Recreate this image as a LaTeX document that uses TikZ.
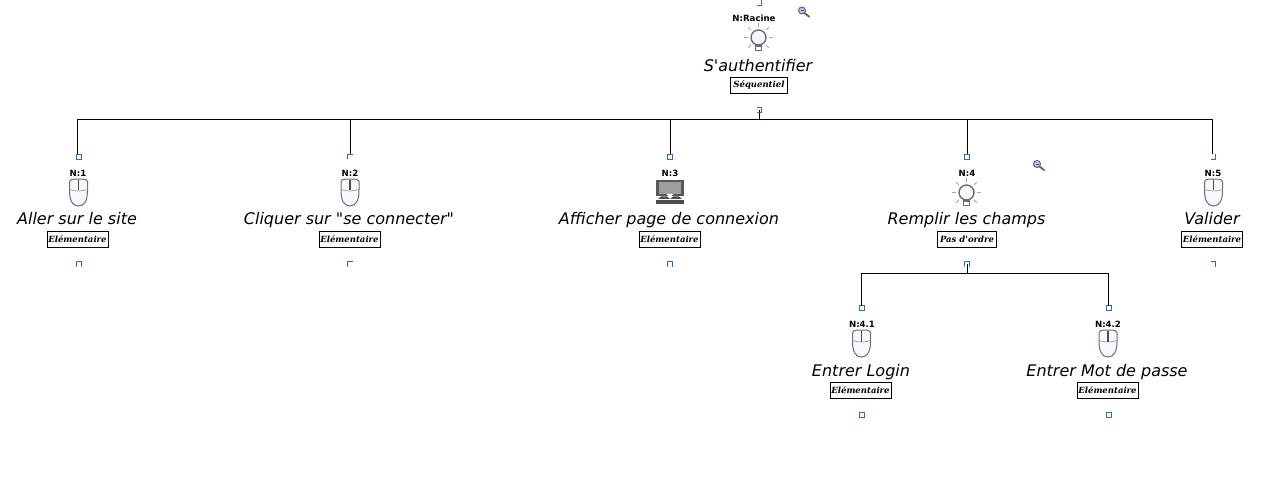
\documentclass[tikz,border=0pt]{standalone}
\usepackage{fontspec}
\setmainfont[Ligatures=TeXOff]{DejaVu Sans}
\newfontfamily\typefont[Ligatures=TeXOff]{DejaVu Serif}
\definecolor{hblue}{HTML}{2F6BC4}
\definecolor{icong}{HTML}{6E6E6E}
\tikzset{
  x=1pt,y=-1pt,
  hnode/.style={minimum size=5pt,inner sep=0pt,outer sep=0pt},
  hfull/.style={hnode,draw=hblue,line width=.9pt},
  hline/.style={draw=hblue,line width=.9pt},
  link/.style={draw=black,line width=.9pt},
  numlabel/.style={font=\fontsize{8.6}{10}\selectfont\bfseries,inner sep=0pt,anchor=base},
  tasklabel/.style={font=\fontsize{16}{18}\selectfont\itshape,inner sep=0pt,anchor=base},
  typebox/.style={draw=black,line width=1pt,font=\typefont\fontsize{8.5}{9}\selectfont\bfseries\itshape,inner sep=0pt,minimum height=16pt,text height=7pt,text depth=2pt},
  mouseicon/.pic={
    \draw[icong,line width=1pt,fill=white!97!blue] (-9,-11) .. controls (-9,-13) and (-7,-13.500) .. (0,-13.500) .. controls (7,-13.500) and (9,-13) .. (9,-11) -- (9,-2) .. controls (9,8) and (6,13.500) .. (0,13.500) .. controls (-6,13.500) and (-9,8) .. (-9,-2) -- cycle;
    \draw[icong!70,line width=.7pt] (-9,-3) .. controls (-3,-1) and (3,-1) .. (9,-3);
    \fill[black!70] (-.8,-12.500) rectangle (.8,-2);
  },
  bulbicon/.pic={
    \foreach \a in {0,45,135,180,225,315,270}{
      \draw[black!35,line width=.9pt] (\a:10.500) -- (\a:14.500);
    }
    \draw[icong,line width=1.4pt,fill=white!97!blue] (0,0) circle (7.500);
    \draw[icong,line width=1.5pt,fill=white] (-3,8.500) rectangle (3,13);
  },
  screenicon/.pic={
    \fill[black!65] (-14,-12) rectangle (14,4.500);
    \fill[black!38] (-11,-9.500) rectangle (11,2);
    \fill[white] (-3.500,2) -- (3.500,2) -- (0,6) -- cycle;
    \fill[black!70] (-9,4.500) -- (-3,4.500) -- (0,7) -- (3,4.500) -- (9,4.500) -- (12,7) -- (-12,7) -- cycle;
    \fill[black!70] (-14,8) rectangle (14,12);
  },
  magicon/.pic={
    \draw[brown!70!black,line width=1.8pt] (2.500,2.500) -- (7.500,6.500);
    \draw[black!60,fill=blue!25,line width=1pt] (0,0) circle (3.500);
    \draw[black!70,line width=.8pt] (-1.500,0) -- (1.500,0);
  }
}
\begin{document}
\begin{tikzpicture}
\useasboundingbox (0,0) rectangle (1263,489);

% Root
\node[hnode] (rt) at (759,3) {};
\node[numlabel] (rn) at (754,22) {N:Racine};
\pic at (758.500,37.500) {bulbicon};
\node[tasklabel] (rl) at (758,71.500) {S'authentifier};
\node[typebox,minimum width=57pt] (rb) at (759,85.500) {Séquentiel};
\node[hnode] (rh) at (759,110) {};
\coordinate (bus) at (759,119.500);
\pic at (802,10.500) {magicon};
\pic at (1037,164) {magicon};

% Top handles
\node[hfull] (t1) at (78.500,157) {};
\node[hnode] (t2) at (350,157) {};
\node[hfull] (t3) at (670,157) {};
\node[hfull] (t4) at (967,157) {};
\node[hnode] (t5) at (1213,157) {};

% Labels
\node[numlabel] (n1) at (78,177) {N:1};
\node[numlabel] (n2) at (350,177) {N:2};
\node[numlabel] (n3) at (670,177) {N:3};
\node[numlabel] (n4) at (967,177) {N:4};
\node[numlabel] (n5) at (1213,177) {N:5};
\pic at (78.500,192.500) {mouseicon};
\pic at (350,192.500) {mouseicon};
\pic at (670,192) {screenicon};
\pic at (966.500,192.500) {bulbicon};
\pic at (1213.500,192.500) {mouseicon};
\node[tasklabel] (l1) at (77,225) {Aller sur le site};
\node[tasklabel] (l2) at (349,225) {Cliquer sur "se connecter"};
\node[tasklabel] (l3) at (669,225) {Afficher page de connexion};
\node[tasklabel] (l4) at (966.500,225) {Remplir les champs};
\node[tasklabel] (l5) at (1212,225) {Valider};
\node[typebox,minimum width=61pt] (b1) at (77.500,239.500) {Elémentaire};
\node[typebox,minimum width=61pt] (b2) at (349.500,239.500) {Elémentaire};
\node[typebox,minimum width=61pt] (b3) at (669.500,239.500) {Elémentaire};
\node[typebox,minimum width=59pt] (b4) at (967,239.500) {Pas d'ordre};
\node[typebox,minimum width=61pt] (b5) at (1212,239.500) {Elémentaire};

% Bottom handles
\node[hnode] (h1) at (78.500,264) {};
\node[hnode] (h2) at (350,264) {};
\node[hnode] (h3) at (670,264) {};
\node[hnode] (h4) at (967,264) {};
\node[hnode] (h5) at (1213,264) {};
\coordinate (bus4) at (967,273);

% Level 3
\node[hfull] (t41) at (862,308) {};
\node[hfull] (t42) at (1108.500,308) {};
\node[numlabel] (n41) at (862,327) {N:4.1};
\node[numlabel] (n42) at (1108,327) {N:4.2};
\pic at (861.500,343.500) {mouseicon};
\pic at (1108,343.500) {mouseicon};
\node[tasklabel] (l41) at (861,376) {Entrer Login};
\node[tasklabel] (l42) at (1107,376) {Entrer Mot de passe};
\node[typebox,minimum width=61pt] (b41) at (860.500,390.500) {Elémentaire};
\node[typebox,minimum width=61pt] (b42) at (1107.500,390.500) {Elémentaire};
\node[hfull] (h41) at (862,415) {};
\node[hfull] (h42) at (1108.500,415) {};

% Connectors
\draw[link] (rh.center) -- (bus);
\draw[link] (bus) -| ([xshift=-.8pt]t1.north);
\draw[link] (bus) -| (t2.north);
\draw[link] (bus) -| (t3.north);
\draw[link] (bus) -| (t4.north);
\draw[link] (bus) -| ([xshift=-.8pt]t5.north);
\draw[link] (h4.center) -- (bus4);
\draw[link] (bus4) -| ([xshift=-.5pt]t41.north);
\draw[link] (bus4) -| ([xshift=-.5pt]t42.north);

% Partial handles
\draw[hline] (rt.north east) |- (rt.south west);
\draw[hline] (rh.south west) -| (rh.north east) -- (rh.north west);
\draw[hline] (t2.south west) |- (t2.north east);
\draw[hline] (t5.north east) |- (t5.south west);
\draw[hline] (h1.south west) |- (h1.north east) -- (h1.south east);
\draw[hline] (h2.south west) |- (h2.north east);
\draw[hline] (h3.south west) |- (h3.north east) -- (h3.south east);
\draw[hline] (h4.south west) |- (h4.north east) -- (h4.south east);
\draw[hline] (h5.north west) -| (h5.south east);
\end{tikzpicture}
\end{document}
